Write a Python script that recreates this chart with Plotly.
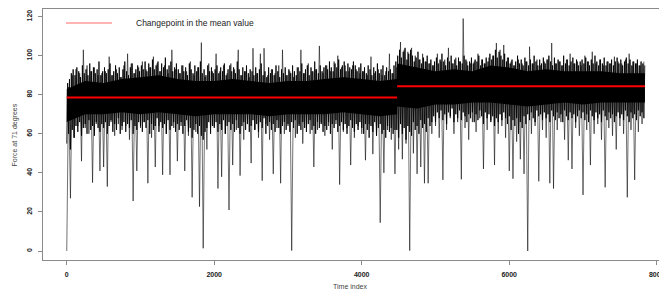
import plotly.graph_objects as go

# ---- data ----
# long excursions (spikes): one (low, high) pair per 50-index window
spike_step = 50
spike_low = [
    0, 27, 58, 64, 46, 63, 60, 35, 65, 41,
    43, 33, 66, 59, 65, 62, 64, 57, 25.6, 41,
    63, 66, 34.7, 58, 43, 64, 39, 60, 39, 63,
    46, 64, 41, 59, 27.5, 61, 22.7, 1.4, 52, 63,
    64, 32, 38, 60, 21, 44, 62, 38.6, 57, 65,
    45, 62, 58, 36, 65, 57, 39.5, 63, 34.7, 60,
    64, 0.2, 58, 65, 55, 63, 60, 43, 62, 66,
    59, 64, 52, 65, 34, 61, 63, 44, 58, 64,
    60, 46.5, 65, 49.6, 59, 14.5, 40, 62, 57, 39.5,
    52, 47, 55, 0.2, 50, 39.5, 43, 34.7, 34.7, 60,
    64, 58, 36.4, 62, 68, 60, 66, 36.7, 63, 57,
    66, 61, 68, 42, 62, 67, 44, 60, 64, 58,
    41, 37, 56, 47, 39.5, 0, 60, 64, 35.7, 62,
    58, 34.7, 32, 62, 66, 57, 46.5, 42, 63, 59,
    28.7, 62, 44, 60, 65, 57, 32.6, 63, 59, 52,
    64, 60, 27.5, 62, 36.4, 61, 65,
]
spike_high = [
    84, 90, 93, 91, 103, 95, 92, 94, 90, 91,
    92, 99.5, 90, 93, 89, 95, 101, 96, 91, 94,
    97, 93, 94, 99.5, 96, 92, 95, 91, 103, 93,
    91, 95, 92, 97, 90, 94, 106.7, 89, 96, 92,
    101, 92, 95, 91, 96, 93, 103, 90, 92, 89,
    103.8, 91, 101, 103.8, 90, 93, 91, 95, 103, 90,
    92, 89, 94, 103, 91, 96, 92, 93, 105, 91,
    95, 92, 97, 100, 94, 95, 92, 95, 93, 91,
    92, 90, 99.5, 91, 93, 90, 92, 101, 91, 94,
    107, 103, 102, 104, 100, 98, 101, 97, 96, 95,
    101, 97, 98, 104, 96, 99, 97, 119, 97, 96,
    97, 101, 98, 96, 99, 100, 106.5, 103, 105.5, 99,
    97, 95, 98, 96, 97, 104.6, 96, 98, 95, 97,
    98, 106.5, 96, 97, 95, 98, 101, 96, 97, 95,
    100, 97, 102, 96, 98, 95, 97, 96, 99.5, 97,
    96, 98, 101, 97, 96, 95, 97,
]
# short excursions around the band: one (low, high) pair per 25-index window
fuzz_step = 25
fuzz_high = [
    86, 88, 91, 93, 90, 94, 92, 89, 95, 91, 93, 90, 96, 92, 94, 91, 93, 97, 90, 92,
    94, 91, 93, 96, 90, 92, 95, 91, 94, 89, 93, 97, 92, 90, 94, 96, 91, 93, 95, 92,
    95, 93, 97, 92, 96, 94, 98, 93, 95, 97, 92, 96, 94, 99, 93, 95, 97, 92, 94, 96,
    93, 91, 95, 92, 94, 90, 96, 93, 91, 95, 92, 94, 97, 91, 93, 90, 95, 92, 94, 91,
    93, 95, 91, 94, 92, 96, 90, 93, 95, 92, 94, 91, 97, 93, 90, 94, 92, 95, 91, 93,
    92, 90, 94, 91, 93, 96, 90, 92, 89, 94, 91, 93, 90, 95, 92, 89, 93, 91, 94, 90,
    93, 91, 95, 92, 90, 94, 92, 96, 91, 93, 95, 90, 94, 92, 97, 93, 91, 95, 92, 94,
    95, 93, 97, 94, 92, 96, 94, 98, 93, 95, 97, 92, 96, 94, 93, 97, 95, 92, 94, 96,
    92, 94, 91, 95, 93, 90, 94, 92, 96, 91, 93, 95, 90, 94, 92, 93, 91, 95, 97,
    100, 103, 99, 102, 104, 98, 101, 103, 100, 97, 99, 102, 98, 96, 99, 97, 100, 96, 98, 95,
    97, 99, 96, 98, 101, 97, 95, 99, 97, 100, 96, 98, 95, 99, 97, 96, 100, 98, 95, 97,
    99, 96, 98, 97, 100, 95, 98, 96, 99, 97, 101, 98, 100, 103, 99, 102, 100, 98, 101, 97,
    99, 96, 98, 95, 97, 100, 96, 98, 95, 99, 97, 95, 98, 96, 100, 97, 95, 98, 96, 99,
    96, 98, 100, 97, 95, 99, 96, 98, 97, 95, 100, 96, 98, 95, 97, 99, 96, 98, 95, 97,
    98, 96, 99, 97, 95, 98, 96, 100, 97, 95, 98, 96, 99, 95, 97, 96, 98, 95, 97, 99,
    96, 98, 95, 97, 99, 96, 98, 95, 97, 96, 98, 95, 97, 96, 95,
]
fuzz_low = [
    55, 60, 52, 62, 58, 64, 61, 66, 59, 63, 65, 60, 67, 62, 64, 59, 66, 63, 61, 65,
    63, 66, 60, 64, 67, 61, 65, 62, 68, 60, 64, 66, 61, 65, 63, 67, 60, 64, 62, 66,
    64, 61, 66, 63, 67, 60, 65, 62, 64, 68, 61, 66, 63, 65, 60, 67, 62, 64, 66, 61,
    65, 62, 66, 60, 64, 67, 61, 63, 58, 62, 65, 60, 64, 59, 57, 61, 63, 66, 60, 64,
    63, 66, 61, 65, 62, 67, 60, 64, 66, 62, 65, 61, 67, 63, 60, 64, 66, 62, 65, 61,
    64, 67, 62, 65, 61, 66, 63, 68, 60, 64, 66, 62, 65, 61, 67, 63, 60, 64, 66, 62,
    65, 61, 66, 63, 67, 60, 64, 62, 66, 63, 61, 65, 67, 62, 64, 60, 66, 63, 65, 61,
    64, 62, 66, 60, 65, 63, 67, 61, 64, 66, 62, 65, 60, 64, 67, 63, 61, 65, 62, 66,
    63, 60, 65, 62, 58, 64, 61, 66, 59, 63, 65, 60, 62, 58, 64, 61, 63, 60, 62,
    62, 58, 65, 60, 63, 57, 64, 61, 59, 66, 62, 64, 60, 67, 63, 65, 61, 68, 64, 66,
    69, 66, 71, 68, 72, 67, 70, 65, 71, 69, 73, 66, 70, 68, 72, 67, 71, 69, 66, 70,
    68, 71, 66, 70, 67, 72, 69, 65, 71, 68, 70, 66, 69, 64, 68, 66, 70, 67, 71, 68,
    65, 69, 62, 67, 64, 68, 60, 66, 63, 69, 65, 70, 67, 71, 68, 66, 72, 69, 70, 67,
    71, 68, 70, 66, 72, 69, 67, 71, 68, 70, 66, 72, 69, 67, 71, 68, 70, 66, 69, 72,
    68, 71, 67, 70, 66, 72, 69, 67, 71, 68, 70, 66, 72, 69, 67, 71, 68, 70, 66, 69,
    71, 68, 70, 67, 72, 69, 66, 71, 68, 70, 67, 72, 69, 71, 68,
]
# dense core of the band
core_t = [1, 250, 500, 750, 1000, 1250, 1500, 1750, 2000, 2250, 2500, 2750,
          3000, 3250, 3500, 3750, 4000, 4250, 4480, 4481, 4750, 5000, 5250,
          5500, 5750, 6000, 6250, 6500, 6750, 7000, 7250, 7500, 7750, 7840]
core_hi = [83, 87, 86, 88, 89, 90, 88, 87, 87, 88, 87, 86, 87, 87, 88, 89, 88,
           87, 88, 96, 94, 92, 93, 92, 95, 94, 92, 93, 92, 92, 92, 91, 91, 91]
core_lo = [66, 70, 70, 71, 70, 71, 70, 69, 70, 70, 70, 69, 70, 70, 70, 71, 70,
           69, 70, 74, 73, 75, 75, 76, 76, 75, 74, 75, 76, 75, 76, 76, 76, 76]
# changepoint in the mean
n_obs = 7840
changepoint = 4480
mean_before = 78.6
mean_after = 84.3
x_ticks = [0, 2000, 4000, 6000, 8000]
y_ticks = [0, 20, 40, 60, 80, 100, 120]


def zigzag(step, lows, highs):
    t, v = [], []
    for k, (lo, hi) in enumerate(zip(lows, highs)):
        t += [step * k + 1, step * k + step // 2 + 1]
        v += [lo, hi]
    return t, v


fig = go.Figure()
fig.add_trace(go.Scatter(
    x=core_t + core_t[::-1], y=core_hi + core_lo[::-1],
    fill="toself", fillcolor="black", mode="lines", line=dict(width=0),
    hoverinfo="skip", showlegend=False))
ft, fv = zigzag(fuzz_step, fuzz_low, fuzz_high)
fig.add_trace(go.Scatter(x=ft, y=fv, mode="lines",
                         line=dict(color="rgba(0,0,0,0.85)", width=1),
                         showlegend=False))
st, sv = zigzag(spike_step, spike_low, spike_high)
fig.add_trace(go.Scatter(x=st, y=sv, mode="lines",
                         line=dict(color="rgba(0,0,0,0.7)", width=0.8),
                         showlegend=False))
fig.add_trace(go.Scatter(
    x=[1, changepoint, None, changepoint, n_obs],
    y=[mean_before, mean_before, None, mean_after, mean_after],
    mode="lines", line=dict(color="#ff0000", width=2), showlegend=False))

font_family = "Liberation Sans, Arial, sans-serif"
axis_gray = "#8a8a8a"

fig.update_layout(
    width=659, height=292,
    margin=dict(l=43, r=0, t=9, b=32),
    paper_bgcolor="white", plot_bgcolor="white",
    font=dict(family=font_family, color="#222"),
    xaxis=dict(range=[-321, 8031], tickvals=x_ticks, ticktext=[str(v) for v in x_ticks],
               automargin=False, ticklabeloverflow="allow",
               showgrid=False, zeroline=False, showline=True, linecolor=axis_gray,
               linewidth=1, mirror=True, ticks="outside", ticklen=4,
               tickcolor=axis_gray, ticklabelstandoff=4,
               tickfont=dict(size=7, family=font_family, weight="bold", color="#222")),
    yaxis=dict(range=[-4.6, 123.9], tickvals=y_ticks, ticktext=[str(v) for v in y_ticks],
               automargin=False,
               showgrid=False, zeroline=False, showline=True, linecolor=axis_gray,
               linewidth=1, ticks="outside", ticklen=4, tickcolor=axis_gray,
               tickangle=-90, ticklabelstandoff=3,
               tickfont=dict(size=7, family=font_family, weight="bold", color="#222")),
    annotations=[
        dict(text="Force at 71 degrees", xref="paper", yref="paper",
             x=-0.0455, y=0.5, textangle=-90, showarrow=False,
             xanchor="center", yanchor="middle",
             font=dict(size=7, family=font_family, color="#444")),
        dict(text="Time index", xref="paper", yref="paper",
             x=0.498, y=-0.082, showarrow=False, xanchor="center", yanchor="top",
             font=dict(size=7, family=font_family, color="#444")),
        dict(text="Changepoint in the mean value", xref="paper", yref="paper",
             x=(134 - 43) / 616, y=(260 - 23) / 251, showarrow=False,
             xanchor="left", yanchor="middle",
             font=dict(size=8.5, family=font_family, color="#222")),
    ],
    shapes=[
        dict(type="line", xref="paper", yref="paper",
             x0=(66 - 43) / 616, x1=(112 - 43) / 616,
             y0=(260 - 23) / 251, y1=(260 - 23) / 251,
             line=dict(color="rgba(255,0,0,0.4)", width=1.5)),
    ],
)

fig.write_html("out.html", config={"displayModeBar": False},
               post_script="document.body.style.margin='0';document.body.style.overflow='hidden';")
